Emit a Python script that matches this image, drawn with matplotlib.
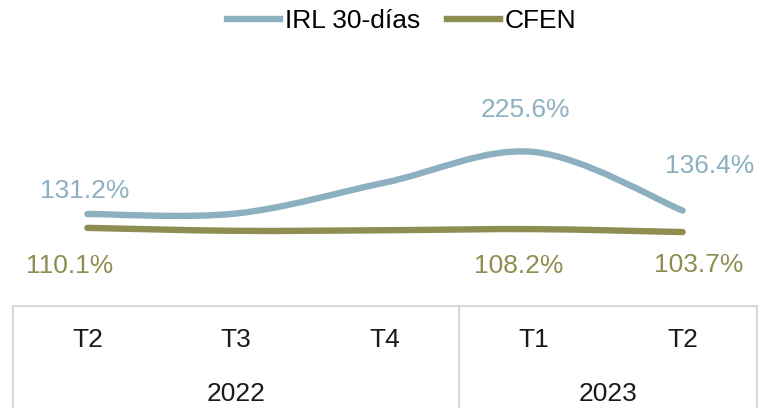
import matplotlib
matplotlib.use("Agg")
import matplotlib.pyplot as plt
from matplotlib.path import Path
from matplotlib.patches import PathPatch
from matplotlib.lines import Line2D

plt.rcParams['font.family'] = ['Liberation Sans', 'DejaVu Sans']

# data
quarters = ["T2", "T3", "T4", "T1", "T2"]
years = ["2022", "2023"]
year_spans = [(0, 2), (3, 4)]
irl = [131.2, 132.0, 179.0, 225.6, 136.4]
cfen = [110.1, 105.6, 106.5, 108.2, 103.7]
irl_labelled = [0, 3, 4]
cfen_labelled = [0, 3, 4]

BLUE = "#8CB0C0"
OLIVE = "#8E8E52"
GRID = "#D4D4D4"
W, H = 767, 408


def smooth_path(xs, ys):
    # bezier segments in the style of spreadsheet "smoothed line"
    n = len(xs)
    verts = [(xs[0], ys[0])]
    codes = [Path.MOVETO]
    for i in range(n - 1):
        p0 = max(i - 1, 0)
        p3 = min(i + 2, n - 1)
        c1 = (xs[i] + (xs[i + 1] - xs[p0]) / 6, ys[i] + (ys[i + 1] - ys[p0]) / 6)
        c2 = (xs[i + 1] - (xs[p3] - xs[i]) / 6, ys[i + 1] - (ys[p3] - ys[i]) / 6)
        verts += [c1, c2, (xs[i + 1], ys[i + 1])]
        codes += [Path.CURVE4] * 3
    return Path(verts, codes)


fig = plt.figure(figsize=(W / 100, H / 100), dpi=100)
left, right = 13 / W, 757 / W
ax = fig.add_axes([left, (H - 306) / H, right - left, (306 - 40) / H])
tab = fig.add_axes([left, 0, right - left, (H - 306) / H])

x = list(range(len(quarters)))
for vals, col in [(irl, BLUE), (cfen, OLIVE)]:
    ax.add_patch(PathPatch(smooth_path(x, vals), fill=False, edgecolor=col, lw=4.6,
                           capstyle="round", joinstyle="round"))

ax.set_xlim(-0.5, len(quarters) - 0.5)
ax.set_ylim(-8.8, 396)
ax.axis("off")

for i in irl_labelled:
    dx, dy = {0: (-3, 23), 3: (-8, 42), 4: (27, 45)}[i]
    ax.annotate(f"{irl[i]:.1f}%", (x[i], irl[i]), xytext=(dx, dy), textcoords="offset pixels",
                ha="center", va="center", color=BLUE, fontsize=19)
for i in cfen_labelled:
    dx, dy = {0: (-18, -38), 3: (-15, -37), 4: (16, -33)}[i]
    ax.annotate(f"{cfen[i]:.1f}%", (x[i], cfen[i]), xytext=(dx, dy), textcoords="offset pixels",
                ha="center", va="center", color=OLIVE, fontsize=19)

# category table under the chart
tab.set_xlim(-0.5, len(quarters) - 0.5)
tab.set_ylim(0, 1)
tab.set_xticks([])
tab.set_yticks([])
for s in ["top", "left", "right"]:
    tab.spines[s].set_color(GRID)
    tab.spines[s].set_linewidth(1.3)
tab.spines["bottom"].set_visible(False)
tab.axvline(year_spans[0][1] + 0.5, color=GRID, lw=1.3)
for i, q in enumerate(quarters):
    tab.text(i, 0.667, q, ha="center", va="center", fontsize=19, color="#1a1a1a")
for yr, (a, b) in zip(years, year_spans):
    tab.text((a + b) / 2, 0.137, yr, ha="center", va="center", fontsize=19, color="#1a1a1a")

handles = [Line2D([], [], color=BLUE, lw=4.6), Line2D([], [], color=OLIVE, lw=4.6)]
fig.legend(handles, ["IRL 30-días", "CFEN"], loc="center", bbox_to_anchor=(0.524, 1 - 21 / H),
           ncol=2, frameon=False, fontsize=19, handlelength=2.0, handletextpad=0.2,
           columnspacing=1.0)

fig.savefig("out.png", dpi=100)
